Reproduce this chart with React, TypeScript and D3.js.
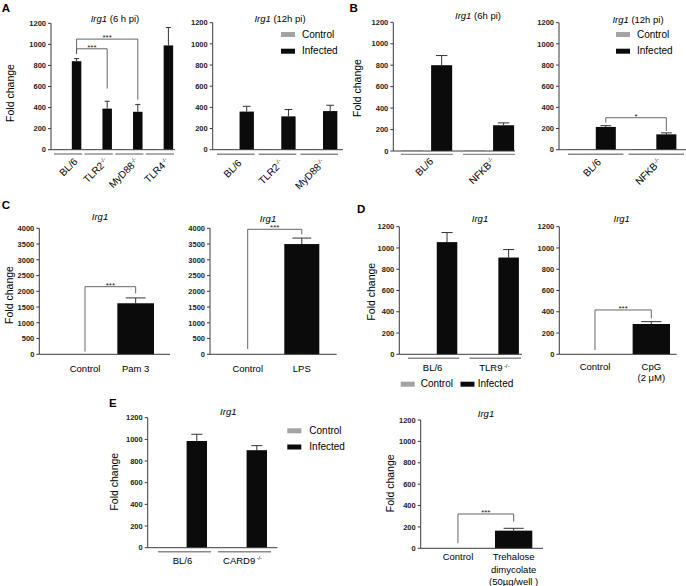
import React from "react";
import * as d3 from "d3";

// ---------------- DATA ----------------
const seriesNames = ["Control", "Infected"];
const ticks1200 = [0, 200, 400, 600, 800, 1000, 1200];
const ticks4000 = [0, 500, 1000, 1500, 2000, 2500, 3000, 3500, 4000];

// A (6 h pi)
const a6Groups = ["BL/6", "TLR2", "MyD88", "TLR4"];
const a6Sups = ["", "-/-", "-/-", "-/-"];
const a6Control = [5, 5, 5, 5];
const a6Infected = [840, 390, 360, 990];
const a6Err = [25, 70, 70, 170];
const a6Sig = [
  { from: 0, to: 1, top: 958, l: 910, r: 580, label: "***" },
  { from: 0, to: 2, top: 1050, l: 910, r: 475, label: "***" },
];
// A (12 h pi)
const a12Groups = ["BL/6", "TLR2", "MyD88"];
const a12Sups = ["", "-/-", "-/-"];
const a12Control = [4, 4, 4];
const a12Infected = [360, 315, 365];
const a12Err = [50, 65, 55];
// B (6 h pi)
const b6Groups = ["BL/6", "NFKB"];
const b6Sups = ["", "-/-"];
const b6Control = [4, 4];
const b6Infected = [800, 240];
const b6Err = [90, 22];
// B (12 h pi)
const b12Groups = ["BL/6", "NFKB"];
const b12Sups = ["", "-/-"];
const b12Control = [3, 6];
const b12Infected = [215, 145];
const b12Err = [12, 14];
const b12Sig = [{ from: 0, to: 1, top: 302, l: 255, r: 177, label: "*" }];
// C
const cPamCats = ["Control", "Pam 3"];
const cPamValues = [0, 1620];
const cPamErr = [0, 170];
const cPamSig = [{ from: 0, to: 1, top: 2146, l: 83, r: 1937, label: "***" }];
const cLpsCats = ["Control", "LPS"];
const cLpsValues = [0, 3500];
const cLpsErr = [0, 190];
const cLpsSig = [{ from: 0, to: 1, top: 3968, l: 168, r: 3810, label: "***" }];
// D
const dGroups = ["BL/6", "TLR9"];
const dSups = ["", "-/-"];
const dControl = [0, 0];
const dInfected = [1055, 910];
const dErr = [90, 75];
const dCpgCats = ["Control", "CpG (2 μM)"];
const dCpgLines = [["Control"], ["CpG", "(2 μM)"]];
const dCpgValues = [0, 285];
const dCpgErr = [0, 22];
const dCpgSig = [{ from: 0, to: 1, top: 417, l: 40, r: 339, label: "***" }];
// E
const eGroups = ["BL/6", "CARD9"];
const eSups = ["", "-/-"];
const eControl = [0, 0];
const eInfected = [985, 900];
const eErr = [62, 42];
const eTdmCats = ["Control", "Trehalose dimycolate (50µg/well)"];
const eTdmLines = [["Control"], ["Trehalose", "dimycolate", "(50µg/well )"]];
const eTdmValues = [0, 165];
const eTdmErr = [0, 22];
const eTdmSig = [{ from: 0, to: 1, top: 321, l: 47, r: 249, label: "***" }];

// ---------------- STYLE ----------------
const FONT = "'Liberation Sans', Arial, Helvetica, sans-serif";
const AX = "#3a3a3a";
const GRAY = "#a3a3a3";
const BLACK = "#0b0b0b";
const UL = "#8a8a8a";

function Panel({ L, cats, sups, lines, control, values, err, sig }: any) {
  const y = d3.scaleLinear().domain([0, L.max]).range([L.y0, L.yTop]);
  const gx = d3.scaleBand<string>().domain(cats).range(L.band).paddingInner(L.padInner);
  const grouped = !!control;
  const sx = d3
    .scaleBand<string>()
    .domain(seriesNames)
    .range([0, gx.bandwidth()])
    .paddingInner(L.subPadInner ?? 0)
    .paddingOuter(L.subPadOuter ?? 0);
  const barW = grouped ? sx.bandwidth() : gx.bandwidth();
  const barX = (i: number, s: string) => (grouped ? (gx(cats[i]) as number) + (sx(s) as number) : (gx(cats[i]) as number));
  const infCenter = (i: number) => barX(i, "Infected") + barW / 2;
  const gCenter = (i: number) => (gx(cats[i]) as number) + gx.bandwidth() / 2;

  const bars: any[] = [];
  cats.forEach((c: string, i: number) => {
    if (grouped) {
      const cv = control[i];
      bars.push(
        <rect key={"c" + i} x={barX(i, "Control")} y={y(cv)} width={barW} height={Math.max(0, L.y0 - y(cv))} fill={GRAY} />
      );
    }
    const v = values[i];
    if (v > 0) {
      const x = barX(i, "Infected");
      const e = err[i];
      const cx = x + barW / 2;
      if (e > 0) {
        bars.push(
          <g key={"e" + i} stroke="#333" strokeWidth={1}>
            <line x1={cx} x2={cx} y1={y(v)} y2={y(v + e)} />
            <line x1={cx - barW * 0.27} x2={cx + barW * 0.27} y1={y(v + e)} y2={y(v + e)} />
          </g>
        );
      }
      bars.push(<rect key={"b" + i} x={x} y={y(v)} width={barW} height={L.y0 - y(v)} fill={BLACK} />);
    }
  });

  const labelEls: any[] = [];
  cats.forEach((c: string, i: number) => {
    if (L.labelMode === "rot") {
      const ax = gCenter(i) + (L.labelDx ?? 0);
      const ay = L.y0 + L.labelDy;
      labelEls.push(
        <text key={"l" + i} transform={`translate(${ax},${ay}) rotate(-45)`} textAnchor="end" fontSize={10}>
          {c}
          {sups[i] ? (
            <tspan fontSize={6} dy={-3.6}>
              {sups[i]}
            </tspan>
          ) : null}
        </text>
      );
    } else if (L.labelMode === "group") {
      labelEls.push(
        <text key={"l" + i} x={gCenter(i)} y={L.y0 + L.labelDy} textAnchor="middle" fontSize={9.5}>
          {c}
          {sups[i] ? (
            <tspan fontSize={5.5} dy={-3.5}>
              {" " + sups[i]}
            </tspan>
          ) : null}
        </text>
      );
    } else {
      const ls = lines ? lines[i] : [c];
      ls.forEach((t: string, k: number) =>
        labelEls.push(
          <text key={"l" + i + "_" + k} x={gCenter(i)} y={L.y0 + L.labelDy + k * (L.lineH ?? 11)} textAnchor="middle" fontSize={9.5}>
            {t}
          </text>
        )
      );
    }
  });

  const underlines = grouped
    ? cats.map((c: string, i: number) => (
        <line
          key={"u" + i}
          x1={(gx(c) as number) - (L.ulExt ? L.ulExt[0] : 0)}
          x2={(gx(c) as number) + gx.bandwidth() + (L.ulExt ? L.ulExt[1] : 0)}
          y1={L.y0 + L.ulDy}
          y2={L.y0 + L.ulDy}
          stroke={UL}
          strokeWidth={1.4}
        />
      ))
    : null;

  const sigEls = (sig || []).map((s: any, k: number) => {
    const xl = grouped ? infCenter(s.from) : gCenter(s.from);
    const xr = grouped ? infCenter(s.to) : gCenter(s.to);
    const path = d3.path();
    path.moveTo(xl, y(s.l));
    path.lineTo(xl, y(s.top));
    path.lineTo(xr, y(s.top));
    path.lineTo(xr, y(s.r));
    return (
      <g key={"s" + k}>
        <path d={path.toString()} fill="none" stroke="#555" strokeWidth={0.9} />
        <text x={(xl + xr) / 2} y={y(s.top) + 0.8} textAnchor="middle" fontSize={8} fill="#222">
          {s.label}
        </text>
      </g>
    );
  });

  return (
    <g>
      {bars}
      <line x1={L.axisX} x2={L.axisX} y1={L.y0} y2={L.yTop} stroke={AX} strokeWidth={1} />
      {L.ticks.map((t: number) => (
        <g key={"t" + t}>
          <line x1={L.axisX - 3} x2={L.axisX} y1={y(t)} y2={y(t)} stroke={AX} strokeWidth={1} />
          <text x={L.axisX - 5} y={y(t) + 2.7} textAnchor="end" fontSize={7.5} fontWeight="bold" fill="#222">
            {t}
          </text>
        </g>
      ))}
      <line x1={L.axisX} x2={L.xEnd} y1={L.y0} y2={L.y0} stroke={AX} strokeWidth={1} />
      {underlines}
      {labelEls}
      {sigEls}
      <text x={L.titleX} y={L.titleY} textAnchor="middle" fontSize={9.5}>
        <tspan fontStyle="italic">{L.titleItalic}</tspan>
        {L.titleRest ? <tspan>{L.titleRest}</tspan> : null}
      </text>
      {L.ylabel ? (
        <text transform={`translate(${L.ylabel[0] + 3.6},${L.ylabel[1]}) rotate(-90)`} textAnchor="middle" fontSize={10.5}>
          Fold change
        </text>
      ) : null}
      {L.letter ? (
        <text x={L.letter[1]} y={L.letter[2]} fontSize={11.5} fontWeight="bold">
          {L.letter[0]}
        </text>
      ) : null}
    </g>
  );
}

function Legend({ items }: any) {
  return (
    <g>
      {items.map((it: any, i: number) => (
        <g key={i}>
          <rect x={it.sx} y={it.sy} width={14} height={5} fill={seriesNames[i] === "Control" ? GRAY : BLACK} />
          <text x={it.tx} y={it.sy + 5.5} fontSize={10}>
            {seriesNames[i]}
          </text>
        </g>
      ))}
    </g>
  );
}

// ---------------- LAYOUTS ----------------
const LA6 = {
  axisX: 51, y0: 149.7, yTop: 23.3, max: 1200, ticks: ticks1200, xEnd: 175,
  band: [54, 174], padInner: 0.08, subPadInner: 0.44, subPadOuter: 0.05,
  titleItalic: "Irg1", titleRest: " (6 h pi)", titleX: 115, titleY: 22,
  ylabel: [10, 93], letter: ["A", 1.7, 11.7], labelMode: "rot", labelDx: 10, labelDy: 12.5, ulDy: 4.3,
};
const LA12 = {
  axisX: 212.7, y0: 149.7, yTop: 22.7, max: 1200, ticks: ticks1200, xEnd: 343,
  band: [217, 338], padInner: 0.1, subPadInner: 0.345, subPadOuter: 0.03,
  titleItalic: "Irg1", titleRest: " (12h pi)", titleX: 280, titleY: 21.5,
  labelMode: "rot", labelDx: 6.5, labelDy: 14, ulDy: 4.5,
};
const LB6 = {
  axisX: 393.3, y0: 151, yTop: 22.3, max: 1200, ticks: ticks1200, xEnd: 515,
  band: [401, 515], padInner: 0.16, subPadInner: 0.28, subPadOuter: 0.03,
  titleItalic: "Irg1", titleRest: " (6h pi)", titleX: 478, titleY: 19,
  ylabel: [357, 88], letter: ["B", 349.5, 12.3], labelMode: "rot", labelDx: 7, labelDy: 11, ulDy: 3.4,
};
const LB12 = {
  axisX: 559, y0: 149.7, yTop: 22.7, max: 1200, ticks: ticks1200, xEnd: 686,
  band: [568, 680], padInner: 0.15, subPadInner: 0.17, subPadOuter: 0.15,
  titleItalic: "Irg1", titleRest: " (12h pi)", titleX: 638, titleY: 23,
  labelMode: "rot", labelDx: 8, labelDy: 13, ulDy: 4.5, ulExt: [0, 4],
};
const LCP = {
  axisX: 39.3, y0: 354.3, yTop: 228.3, max: 4000, ticks: ticks4000, xEnd: 170,
  band: [66.7, 154], padInner: 0.276,
  titleItalic: "Irg1", titleRest: "", titleX: 100, titleY: 220,
  ylabel: [9.3, 295], letter: ["C", 1.7, 209], labelMode: "cat", labelDy: 18,
};
const LCL = {
  axisX: 210, y0: 354.3, yTop: 228.3, max: 4000, ticks: ticks4000, xEnd: 336.7,
  band: [230.2, 319.3], padInner: 0.353,
  titleItalic: "Irg1", titleRest: "", titleX: 268, titleY: 221.5, labelMode: "cat", labelDy: 18,
};
const LDL = {
  axisX: 399.3, y0: 354.3, yTop: 226.7, max: 1200, ticks: ticks1200, xEnd: 522,
  band: [408, 518.9], padInner: 0.2, subPadInner: 0.286, subPadOuter: 0,
  titleItalic: "Irg1", titleRest: "", titleX: 480, titleY: 221.5,
  ylabel: [371.7, 291.7], letter: ["D", 357, 213], labelMode: "group", labelDy: 17, ulDy: 4, ulExt: [0, 2],
};
const LDR = {
  axisX: 559.3, y0: 354.3, yTop: 226.7, max: 1200, ticks: ticks1200, xEnd: 676.7,
  band: [576.3, 670], padInner: 0.337,
  titleItalic: "Irg1", titleRest: "", titleX: 621.7, titleY: 221.5, labelMode: "cat", labelDy: 16, lineH: 10.5,
};
const LEL = {
  axisX: 147.7, y0: 547.7, yTop: 417.7, max: 1200, ticks: ticks1200, xEnd: 277.3,
  band: [158, 267], padInner: 0.183, subPadInner: 0.286, subPadOuter: 0,
  titleItalic: "Irg1", titleRest: "", titleX: 228.3, titleY: 415,
  ylabel: [114.3, 481.7], letter: ["E", 109, 407], labelMode: "group", labelDy: 16, ulDy: 4, ulExt: [0, 4],
};
const LER = {
  axisX: 420.7, y0: 548.3, yTop: 420, max: 1200, ticks: ticks1200, xEnd: 543,
  band: [439.3, 532.3], padInner: 0.33,
  titleItalic: "Irg1", titleRest: "", titleX: 486, titleY: 417,
  ylabel: [390, 483.3], labelMode: "cat", labelDy: 12, lineH: 12.3,
};

export default function App() {
  return (
    <svg
      width={686}
      height={586}
      viewBox="0 0 686 586"
      style={{ position: "absolute", left: 0, top: 0, background: "#fff" }}
      fontFamily={FONT}
    >
      <rect x={0} y={0} width={686} height={586} fill="#fff" />
      <Panel L={LA6} cats={a6Groups} sups={a6Sups} control={a6Control} values={a6Infected} err={a6Err} sig={a6Sig} />
      <Panel L={LA12} cats={a12Groups} sups={a12Sups} control={a12Control} values={a12Infected} err={a12Err} />
      <Legend items={[{ sx: 281, sy: 32, tx: 302 }, { sx: 281, sy: 48.7, tx: 302 }]} />
      <Panel L={LB6} cats={b6Groups} sups={b6Sups} control={b6Control} values={b6Infected} err={b6Err} />
      <Panel L={LB12} cats={b12Groups} sups={b12Sups} control={b12Control} values={b12Infected} err={b12Err} sig={b12Sig} />
      <Legend items={[{ sx: 616, sy: 32, tx: 637 }, { sx: 616, sy: 48.7, tx: 637 }]} />
      <Panel L={LCP} cats={cPamCats} values={cPamValues} err={cPamErr} sig={cPamSig} />
      <Panel L={LCL} cats={cLpsCats} values={cLpsValues} err={cLpsErr} sig={cLpsSig} />
      <Panel L={LDL} cats={dGroups} sups={dSups} control={dControl} values={dInfected} err={dErr} />
      <Panel L={LDR} cats={dCpgCats} lines={dCpgLines} values={dCpgValues} err={dCpgErr} sig={dCpgSig} />
      <Legend items={[{ sx: 400.7, sy: 381.7, tx: 420.7 }, { sx: 460.5, sy: 381.7, tx: 477.7 }]} />
      <Panel L={LEL} cats={eGroups} sups={eSups} control={eControl} values={eInfected} err={eErr} />
      <Legend items={[{ sx: 287.3, sy: 428.3, tx: 309.3 }, { sx: 287.3, sy: 444.5, tx: 309.3 }]} />
      <Panel L={LER} cats={eTdmCats} lines={eTdmLines} values={eTdmValues} err={eTdmErr} sig={eTdmSig} />
    </svg>
  );
}
